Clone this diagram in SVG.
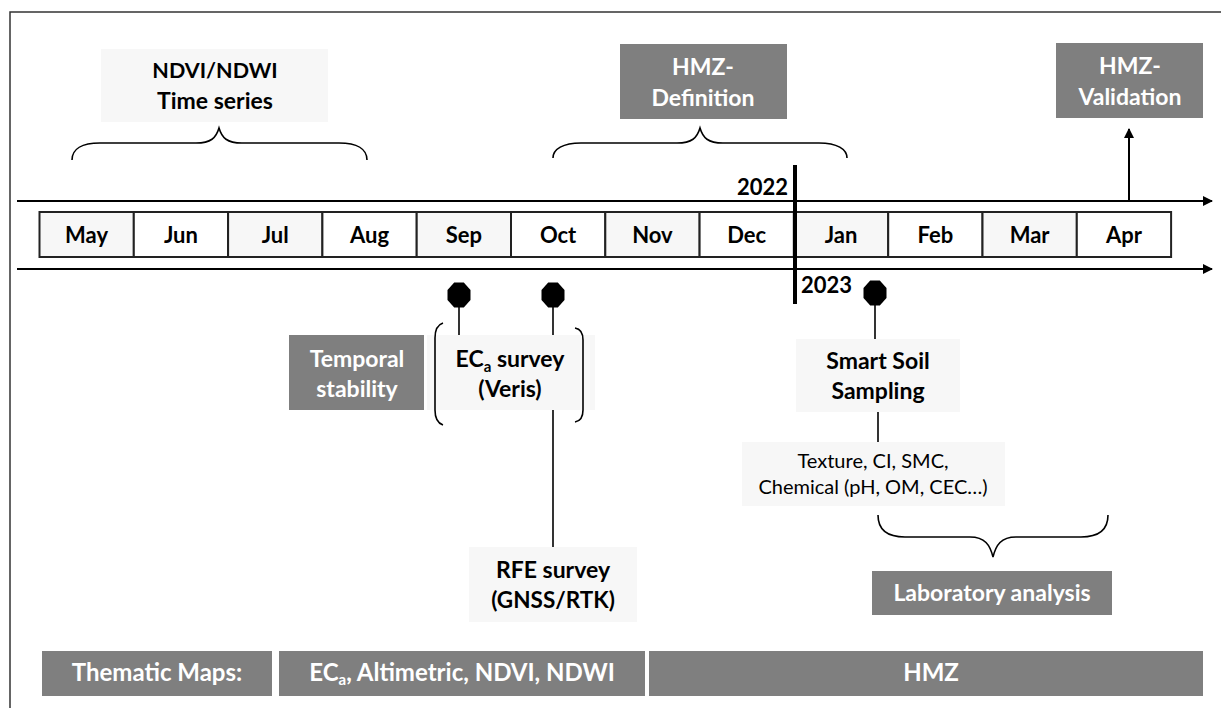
<svg xmlns="http://www.w3.org/2000/svg" width="1221" height="708" viewBox="0 0 1221 708">
<style>
text{font-family:Lato,"Liberation Sans",sans-serif;font-weight:bold;text-anchor:middle}
.dk{fill:#7f7f7f}
.lt{fill:#f7f7f7}
.w{fill:#fff}
.m{stroke:#222;stroke-width:2}
.ln{stroke:#000;stroke-width:1.6;fill:none}
.reg{font-weight:normal}
</style>
<defs>
<marker id="ah" viewBox="0 0 10 10" refX="9" refY="5" markerWidth="10" markerHeight="10" markerUnits="userSpaceOnUse" orient="auto">
<path d="M0,0L10,5L0,10z" fill="#000"/>
</marker>
<polygon id="dot" points="11.5,5 4.8,12.5 -4.8,12.5 -11.5,5 -11.5,-5 -4.8,-12.5 4.8,-12.5 11.5,-5" fill="#000"/>
</defs>
<rect width="1221" height="708" fill="#fff"/>
<path d="M10,708V12H1221" fill="none" stroke="#333" stroke-width="1.5"/>

<g id="months">
<rect class="lt m" x="39.5" y="212" width="94.3" height="45"/>
<rect class="w m" x="133.8" y="212" width="94.3" height="45"/>
<rect class="lt m" x="228.1" y="212" width="94.3" height="45"/>
<rect class="w m" x="322.4" y="212" width="94.3" height="45"/>
<rect class="lt m" x="416.7" y="212" width="94.3" height="45"/>
<rect class="w m" x="511" y="212" width="94.3" height="45"/>
<rect class="lt m" x="605.3" y="212" width="94.3" height="45"/>
<rect class="w m" x="699.6" y="212" width="94.3" height="45"/>
<rect class="lt m" x="793.9" y="212" width="94.3" height="45"/>
<rect class="w m" x="888.2" y="212" width="94.3" height="45"/>
<rect class="lt m" x="982.5" y="212" width="94.3" height="45"/>
<rect class="w m" x="1076.8" y="212" width="94.3" height="45"/>
<g font-size="22">
<text x="86.6" y="243">May</text>
<text x="180.9" y="243">Jun</text>
<text x="275.2" y="243">Jul</text>
<text x="369.5" y="243">Aug</text>
<text x="463.8" y="243">Sep</text>
<text x="558.1" y="243">Oct</text>
<text x="652.4" y="243">Nov</text>
<text x="746.7" y="243">Dec</text>
<text x="841" y="243">Jan</text>
<text x="935.3" y="243">Feb</text>
<text x="1029.6" y="243">Mar</text>
<text x="1123.9" y="243">Apr</text>
</g>
</g>

<g id="years" font-size="22">
<text x="788" y="195" style="text-anchor:end">2022</text>
<text x="801" y="293" style="text-anchor:start">2023</text>
</g>

<g id="ndvi">
<rect class="lt" x="101" y="49" width="227" height="73"/>
<text x="215" y="78" font-size="21.5">NDVI/NDWI</text>
<text x="215" y="109" font-size="23">Time series</text>
</g>

<g id="hmz-def">
<rect class="dk" x="620" y="44" width="167" height="75"/>
<text class="w" x="703" y="75" font-size="23">HMZ-</text>
<text class="w" x="703" y="106" font-size="23">Definition</text>
</g>

<g id="hmz-val">
<rect class="dk" x="1056" y="43" width="147" height="75"/>
<text class="w" x="1130" y="74" font-size="23">HMZ-</text>
<text class="w" x="1130" y="105" font-size="23">Validation</text>
</g>

<g id="temporal">
<rect class="dk" x="289" y="335" width="135" height="75"/>
<text class="w" x="357" y="367" font-size="23">Temporal</text>
<text class="w" x="357" y="397" font-size="23">stability</text>
</g>

<g id="eca">
<rect class="lt" x="427" y="335" width="168" height="75"/>
<text x="510" y="367" font-size="23">EC<tspan font-size="15" dy="5">a</tspan><tspan dy="-5"> survey</tspan></text>
<text x="510" y="397" font-size="23">(Veris)</text>
</g>

<g id="rfe">
<rect class="lt" x="469" y="547" width="168" height="75"/>
<text x="553" y="578" font-size="23">RFE survey</text>
<text x="553" y="608" font-size="22.5">(GNSS/RTK)</text>
</g>

<g id="soil">
<rect class="lt" x="796" y="339" width="164" height="73"/>
<text x="878" y="369" font-size="23">Smart Soil</text>
<text x="878" y="399" font-size="23">Sampling</text>
</g>

<g id="texture">
<rect class="lt" x="742" y="442" width="263" height="64"/>
<text class="reg" x="873" y="468" font-size="20">Texture, CI, SMC,</text>
<text class="reg" x="873" y="494" font-size="20">Chemical (pH, OM, CEC…)</text>
</g>

<g id="lab">
<rect class="dk" x="872" y="571" width="240" height="44"/>
<text class="w" x="992" y="601" font-size="23">Laboratory analysis</text>
</g>

<g id="thematic">
<rect class="dk" x="42" y="651" width="230" height="45"/>
<text class="w" x="157" y="681" font-size="24">Thematic Maps:</text>
</g>
<g id="maps1">
<rect class="dk" x="279" y="651" width="366" height="45"/>
<text class="w" x="462" y="681" font-size="24">EC<tspan font-size="15" dy="4">a</tspan><tspan dy="-4">, Altimetric, NDVI, NDWI</tspan></text>
</g>
<g id="maps2">
<rect class="dk" x="649" y="651" width="554" height="45"/>
<text class="w" x="931" y="681" font-size="24">HMZ</text>
</g>

<g id="connectors">
<line x1="17" y1="201" x2="1212" y2="201" stroke="#000" stroke-width="2" marker-end="url(#ah)"/>
<line x1="17" y1="269" x2="1212" y2="269" stroke="#000" stroke-width="2" marker-end="url(#ah)"/>
<line x1="1129" y1="201" x2="1129" y2="129" stroke="#000" stroke-width="2" marker-end="url(#ah)"/>
<line x1="795" y1="165" x2="795" y2="304" stroke="#000" stroke-width="4"/>
<path class="ln" d="M72,160C72,149 82,143 100,143L196,143C211,143 216,138 219,128C222,138 227,143 242,143L339,143C357,143 367,149 367,160"/>
<path class="ln" d="M553,158C553,149 563,143 581,143L677,143C692,143 697,138 700,128C703,138 708,143 723,143L819,143C837,143 847,149 847,158"/>
<path class="ln" d="M878,515C878,530 887,537 905,537L970,537C985,537 990,545 993,557C996,545 1001,537 1016,537L1081,537C1099,537 1108,530 1108,515"/>
<path class="ln" d="M443,323C437,325 435,330 435,338L435,410C435,418 437,423 443,425"/>
<path class="ln" d="M575,328C581,329 583,333 583,340L583,410C583,417 581,421 575,422"/>
<line class="ln" x1="459" y1="295" x2="459" y2="335"/>
<line class="ln" x1="553" y1="295" x2="553" y2="335"/>
<line class="ln" x1="553" y1="410" x2="553" y2="547"/>
<line class="ln" x1="875" y1="293" x2="875" y2="339"/>
<line class="ln" x1="878" y1="412" x2="878" y2="442"/>
<use href="#dot" x="459" y="295"/>
<use href="#dot" x="553" y="295"/>
<use href="#dot" x="875" y="293"/>
</g>
</svg>
